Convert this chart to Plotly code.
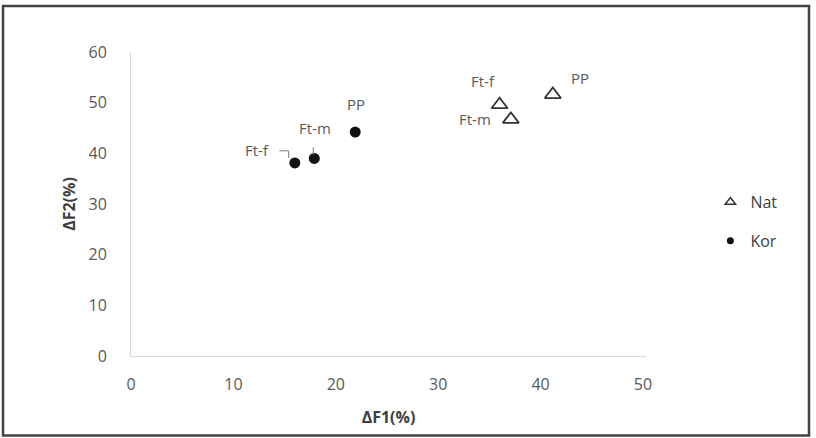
import plotly.graph_objects as go

# Data
nat_labels = ["Ft-f", "Ft-m", "PP"]
nat_f1 = [36.0, 37.1, 41.2]
nat_f2 = [49.6, 46.7, 51.6]

kor_labels = ["Ft-f", "Ft-m", "PP"]
kor_f1 = [16.0, 17.9, 21.9]
kor_f2 = [38.1, 39.0, 44.2]

x_ticks = [0, 10, 20, 30, 40, 50]
y_ticks = [0, 10, 20, 30, 40, 50, 60]

FONT = "Open Sans"
GREY = "#595959"
DARK = "#404040"

fig = go.Figure()
# data traces (hidden from legend)
fig.add_trace(go.Scatter(
    x=nat_f1, y=nat_f2, mode="markers", name="Nat", showlegend=False,
    marker=dict(symbol="triangle-up-open", size=14, color="#333333",
                line=dict(width=1.8, color="#333333")),
))
fig.add_trace(go.Scatter(
    x=kor_f1, y=kor_f2, mode="markers", name="Kor", showlegend=False,
    marker=dict(symbol="circle", size=11, color="#111111"),
))
# legend entries with smaller symbols
fig.add_trace(go.Scatter(
    x=[None], y=[None], mode="markers", name="Nat", legendgroup="nat",
    marker=dict(symbol="triangle-up-open", size=9, color="#333333",
                line=dict(width=1.5, color="#333333")),
))
fig.add_trace(go.Scatter(
    x=[None], y=[None], mode="markers", name="Kor", legendgroup="kor",
    marker=dict(symbol="circle", size=7, color="#111111"),
))

# label offsets (pixels) for each point
nat_off = [(-17, -24), (-36, 0), (27, -17)]
kor_off = [(-38, -13), (1, -30), (1, -28)]

annotations = []
for lab, x, y, (dx, dy) in zip(nat_labels, nat_f1, nat_f2, nat_off):
    annotations.append(dict(x=x, y=y, text=lab, showarrow=False, xshift=dx, yshift=-dy,
                            font=dict(family=FONT, size=15, color=GREY)))
for lab, x, y, (dx, dy) in zip(kor_labels, kor_f1, kor_f2, kor_off):
    annotations.append(dict(x=x, y=y, text=lab, showarrow=False, xshift=dx, yshift=-dy,
                            font=dict(family=FONT, size=15, color=GREY)))

shapes = [
    dict(type="rect", xref="paper", yref="paper", x0=-0.2485, x1=1.3165, y0=-0.2612, y1=1.1513,
         line=dict(color="#444444", width=2.5), fillcolor="rgba(0,0,0,0)", layer="below"),
]
# leader lines (in data units, derived from point positions)
fx, fy = kor_f1[0], kor_f2[0]
shapes.append(dict(type="path", xref="x", yref="y",
                   path=f"M {fx-1.5},{fy+2.4} L {fx-0.6},{fy+2.4} L {fx-0.6},{fy+1.0}",
                   line=dict(color="#7f7f7f", width=1)))
mx, my = kor_f1[1], kor_f2[1]
shapes.append(dict(type="line", xref="x", yref="y", x0=mx - 0.1, x1=mx - 0.1, y0=my + 2.2, y1=my + 0.7,
                   line=dict(color="#7f7f7f", width=1)))

fig.update_layout(
    width=816, height=438,
    margin=dict(l=131, r=170, t=52, b=82),
    paper_bgcolor="white", plot_bgcolor="white",
    font=dict(family=FONT, size=16, color=GREY),
    showlegend=True,
    legend=dict(x=1.125, y=0.442, xanchor="left", yanchor="middle",
                traceorder="grouped", tracegroupgap=15, itemsizing="trace",
                font=dict(family=FONT, size=16, color=DARK), bgcolor="rgba(0,0,0,0)"),
    xaxis=dict(range=[0, 50.3], tickvals=x_ticks, showgrid=False, zeroline=False,
               showline=True, linecolor="#d9d9d9", linewidth=1, ticks="",
               ticklabelstandoff=14,
               tickfont=dict(family=FONT, size=16, color=GREY),
               title=dict(text="<b>ΔF1(%)</b>", font=dict(family=FONT, size=16, color=DARK),
                          standoff=17)),
    yaxis=dict(range=[0, 60], tickvals=y_ticks, showgrid=False, zeroline=False,
               showline=True, linecolor="#d9d9d9", linewidth=1, ticks="",
               ticklabelstandoff=20,
               tickfont=dict(family=FONT, size=16, color=GREY),
               title=dict(text="<b>ΔF2(%)</b>", font=dict(family=FONT, size=16, color=DARK),
                          standoff=8)),
    annotations=annotations,
    shapes=shapes,
)

fig.write_html("out.html")
